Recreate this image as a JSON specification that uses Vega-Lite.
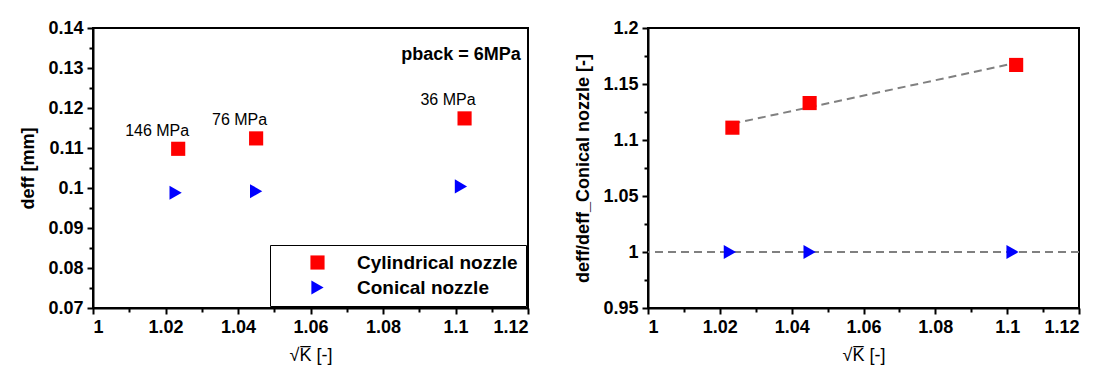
{
  "$schema": "https://vega.github.io/schema/vega-lite/v6.json",
  "background": "white",
  "padding": {"left": 18, "top": 18, "right": 5, "bottom": 5},
  "config": {
    "font": "Liberation Sans",
    "view": {"stroke": "black", "strokeWidth": 2},
    "axis": {
      "grid": false,
      "labelFont": "Liberation Sans",
      "labelFontSize": 18,
      "labelFontWeight": "bold",
      "labelColor": "black",
      "titleFont": "Liberation Sans",
      "titleFontSize": 18,
      "titleFontWeight": "bold",
      "titleColor": "black",
      "titlePadding": 10,
      "domainColor": "black",
      "domainWidth": 2,
      "tickColor": "black",
      "tickWidth": 2,
      "tickSize": 6,
      "labelPadding": 4
    }
  },
  "resolve": {"scale": {"color": "independent", "shape": "independent"}, "legend": {"color": "independent", "shape": "independent"}},
  "datasets": {
    "pts": [
      {"k": 1.0235, "d": 0.1098, "ratio": 1.111, "nozzle": "Cylindrical nozzle", "label": "146 MPa"},
      {"k": 1.045, "d": 0.1124, "ratio": 1.133, "nozzle": "Cylindrical nozzle", "label": "76 MPa"},
      {"k": 1.1025, "d": 0.1174, "ratio": 1.167, "nozzle": "Cylindrical nozzle", "label": "36 MPa"},
      {"k": 1.0228, "d": 0.0988, "ratio": 1.0, "nozzle": "Conical nozzle", "label": ""},
      {"k": 1.045, "d": 0.0992, "ratio": 1.0, "nozzle": "Conical nozzle", "label": ""},
      {"k": 1.1015, "d": 0.1004, "ratio": 1.0, "nozzle": "Conical nozzle", "label": ""}
    ],
    "fit": [
      {"k": 1.0235, "ratio": 1.1145},
      {"k": 1.102, "ratio": 1.1685}
    ],
    "ref": [
      {"ratio": 1.0}
    ]
  },
  "spacing": 43,
  "hconcat": [
    {
      "width": 435,
      "height": 280,
      "data": {"name": "pts"},
      "resolve": {"axis": {"x": "independent", "y": "independent"}},
      "layer": [
        {
          "mark": {"type": "point", "opacity": 0},
          "encoding": {
            "x": {"field": "k", "type": "quantitative", "scale": {"domain": [1, 1.12], "nice": false, "zero": false},
                  "axis": {"orient": "bottom", "values": [1.01, 1.03, 1.05, 1.07, 1.09, 1.11], "labels": false, "title": null, "domain": false, "tickSize": 4}},
            "y": {"field": "d", "type": "quantitative", "scale": {"domain": [0.07, 0.14], "nice": false, "zero": false},
                  "axis": {"orient": "left", "values": [0.075, 0.085, 0.095, 0.105, 0.115, 0.125, 0.135], "labels": false, "title": null, "domain": false, "tickSize": 4}}
          }
        },
        {
          "mark": {"type": "point", "filled": true, "opacity": 1, "size": 200},
          "encoding": {
            "x": {"field": "k", "type": "quantitative",
                  "axis": {"orient": "bottom", "values": [1, 1.02, 1.04, 1.06, 1.08, 1.1, 1.12], "format": "~g", "title": "√K̅ [-]", "titleFontWeight": "normal", "titlePadding": 10}},
            "y": {"field": "d", "type": "quantitative",
                  "axis": {"orient": "left", "values": [0.07, 0.08, 0.09, 0.1, 0.11, 0.12, 0.13, 0.14], "format": "~g", "title": "deff [mm]"}},
            "color": {"field": "nozzle", "type": "nominal",
                      "scale": {"domain": ["Cylindrical nozzle", "Conical nozzle"], "range": ["#ff0000", "#0000ff"]},
                      "legend": {"orient": "bottom-right", "offset": 2, "title": null, "strokeColor": "black", "fillColor": "white",
                                 "padding": 8, "labelFontSize": 19, "labelFontWeight": "bold", "labelColor": "black", "labelFont": "Liberation Sans",
                                 "labelLimit": 400, "symbolSize": 200, "labelOffset": 30, "rowPadding": 5, "symbolOffset": 30, "symbolStrokeWidth": 0,
                                 "encode": {"legend": {"update": {"strokeWidth": {"value": 2}}}}}},
            "shape": {"field": "nozzle", "type": "nominal",
                      "scale": {"domain": ["Cylindrical nozzle", "Conical nozzle"], "range": ["square", "triangle-right"]}}
          }
        },
        {
          "transform": [{"filter": "datum.label != ''"}],
          "mark": {"type": "text", "align": "right", "baseline": "middle", "dx": 11, "dy": -18, "fontSize": 16, "font": "Liberation Sans", "color": "black"},
          "encoding": {
            "x": {"field": "k", "type": "quantitative", "axis": null},
            "y": {"field": "d", "type": "quantitative", "axis": null},
            "text": {"field": "label"}
          }
        },
        {
          "data": {"values": [{"k": 1.118, "d": 0.1333, "txt": "pback = 6MPa"}]},
          "mark": {"type": "text", "align": "right", "baseline": "middle", "fontSize": 18, "fontWeight": "bold", "font": "Liberation Sans", "color": "black"},
          "encoding": {
            "x": {"field": "k", "type": "quantitative", "axis": null},
            "y": {"field": "d", "type": "quantitative", "axis": null},
            "text": {"field": "txt"}
          }
        }
      ]
    },
    {
      "width": 431,
      "height": 280,
      "resolve": {"axis": {"x": "independent", "y": "independent"}},
      "layer": [
        {
          "data": {"name": "pts"},
          "mark": {"type": "point", "opacity": 0},
          "encoding": {
            "x": {"field": "k", "type": "quantitative", "scale": {"domain": [1, 1.12], "nice": false, "zero": false},
                  "axis": {"orient": "bottom", "values": [1.01, 1.03, 1.05, 1.07, 1.09, 1.11], "labels": false, "title": null, "domain": false, "tickSize": 4}},
            "y": {"field": "ratio", "type": "quantitative", "scale": {"domain": [0.95, 1.2], "nice": false, "zero": false},
                  "axis": {"orient": "left", "values": [0.975, 1.025, 1.075, 1.125, 1.175], "labels": false, "title": null, "domain": false, "tickSize": 4}}
          }
        },
        {
          "data": {"name": "ref"},
          "mark": {"type": "rule", "color": "#808080", "strokeWidth": 2, "strokeDash": [8, 5]},
          "encoding": {
            "y": {"field": "ratio", "type": "quantitative", "axis": null}
          }
        },
        {
          "data": {"name": "fit"},
          "mark": {"type": "line", "color": "#808080", "strokeWidth": 2, "strokeDash": [8, 5]},
          "encoding": {
            "x": {"field": "k", "type": "quantitative", "axis": null},
            "y": {"field": "ratio", "type": "quantitative", "axis": null}
          }
        },
        {
          "data": {"name": "pts"},
          "mark": {"type": "point", "filled": true, "opacity": 1, "size": 200},
          "encoding": {
            "x": {"field": "k", "type": "quantitative",
                  "axis": {"orient": "bottom", "values": [1, 1.02, 1.04, 1.06, 1.08, 1.1, 1.12], "format": "~g", "title": "√K̅ [-]", "titleFontWeight": "normal", "titlePadding": 10}},
            "y": {"field": "ratio", "type": "quantitative",
                  "axis": {"orient": "left", "values": [0.95, 1, 1.05, 1.1, 1.15, 1.2], "format": "~g", "title": "deff/deff_Conical nozzle [-]"}},
            "color": {"field": "nozzle", "type": "nominal", "legend": null,
                      "scale": {"domain": ["Cylindrical nozzle", "Conical nozzle"], "range": ["#ff0000", "#0000ff"]}},
            "shape": {"field": "nozzle", "type": "nominal", "legend": null,
                      "scale": {"domain": ["Cylindrical nozzle", "Conical nozzle"], "range": ["square", "triangle-right"]}}
          }
        }
      ]
    }
  ]
}
